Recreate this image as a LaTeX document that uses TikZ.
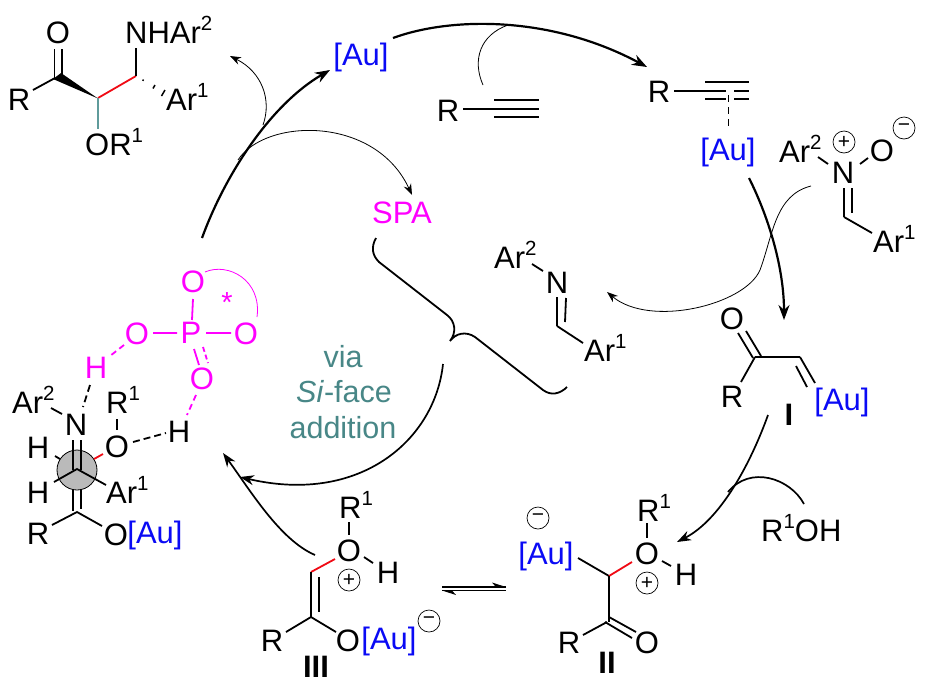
\documentclass[tikz,border=0pt]{standalone}
\usepackage{fontspec}
\setmainfont{Liberation Sans}
\usetikzlibrary{arrows.meta}
\definecolor{aublue}{RGB}{10,10,245}
\definecolor{spam}{RGB}{255,0,255}
\definecolor{viateal}{RGB}{72,135,135}
\definecolor{bondteal}{RGB}{95,155,155}
\definecolor{bondred}{RGB}{240,10,20}
\newcommand\upn[1]{\raisebox{0.40em}{\fontsize{20.5}{21}\selectfont #1}}
\tikzset{
  lab/.style={font=\fontsize{31}{31}\selectfont,inner sep=0pt,text=black},
  bl/.style={lab,anchor=base west},
  sp/.style={lab,text=spam},
  aut/.style={lab,text=aublue},
  rom/.style={lab,font=\fontsize{31}{31}\selectfont\bfseries},
  via/.style={lab,font=\fontsize{30.5}{31}\selectfont,text=viateal},
  chg/.style={draw=black,line width=0.7pt,circle,minimum size=22pt,inner sep=0pt,font=\fontsize{21}{21}\selectfont},
  bond/.style={line width=1.8pt,draw=black},
  mbond/.style={line width=1.8pt,draw=spam},
  thin arc/.style={line width=0.8pt,draw=black},
  thinar/.style={thin arc,-{Stealth[length=11pt,width=8pt]}},
  thickar/.style={line width=2.2pt,draw=black,-{Stealth[length=15pt,width=11pt]}},
  midar/.style={line width=1.7pt,draw=black,-{Stealth[length=14pt,width=10pt]}}
}
\begin{document}
\begin{tikzpicture}[x=1pt,y=-1pt]
\path[fill=white,use as bounding box] (0,0) rectangle (926,697);

% --- product, top left
\node[lab] (pO) at (58,33) {O};
\node[lab] (pR) at (19,100) {R};
\node[bl] (pN) at (125,43) {NHAr\upn{2}};
\node[bl] (pAr) at (166,110) {Ar\upn{1}};
\node[bl] (pOR) at (85,155) {OR\upn{1}};
\draw[bond] (33,90) -- (55,78);
\draw[bond] (54.5,78) -- (54.5,49) (62,75) -- (62,49);
\fill (98,98.5) -- (53,79) -- (61,73) -- cycle;
\draw[line width=1.8pt,draw=bondred] (98,98) -- (136,76);
\draw[bond] (136,76) -- (136,48);
\draw[line width=1.8pt,draw=bondteal] (98,98) -- (98,129);
\draw[line width=1.5pt] (143.5,79.5) -- (142.8,80.8) (155,85) -- (153,88.5) (165,90) -- (161.5,96);

% --- [Au] catalyst, top
\node[aut] (auTop) at (361,57) {[Au]};
\coordinate (mainS) at (202,238);
\coordinate (mainE) at (330,70);
\draw[thickar] (mainS) .. controls (225,175) and (270,105) .. (mainE);
\draw[thinar] (263,125) .. controls (272,100) and (262,72) .. (230,56);
\draw[thinar] (238,160) .. controls (265,118) and (375,115) .. (412,195);
\draw[thickar] (393,38) .. controls (450,17) and (550,15) .. (647,67);
\draw[thin arc] (483,85) .. controls (472,60) and (480,35) .. (508,25);

% --- alkyne
\node[lab] (alkR) at (448,111) {R};
\draw[bond] (463,109) -- (494,109);
\draw[bond] (494,100) -- (539,100) (494,109) -- (539,109) (494,117) -- (539,117);

% --- SPA
\node[sp] (spa) at (402,213) {SPA};

% --- gold pi complex
\node[lab] (cR) at (659,92) {R};
\draw[bond] (674,91) -- (705,91);
\draw[bond] (705,82) -- (749,82);
\draw[bond] (705,91) -- (726,91) (734,91) -- (749,91);
\draw[bond] (705,99) -- (726,99) (734,99) -- (749,99);
\draw[line width=1.8pt,dash pattern=on 7pt off 5pt] (728.5,95) -- (728.5,126);
\node[aut] (auC) at (728,152) {[Au]};

% --- nitrone
\node[bl] (nAr2) at (779,162) {Ar\upn{2}};
\node[lab] (nN) at (843,173) {N};
\node[lab] (nO) at (882,151) {O};
\node[chg] (nP) at (844,142) {+};
\node[chg] (nM) at (904,128) {−};
\draw[bond] (818,157) -- (828,164) (860,164) -- (868,158);
\draw[bond] (844,188) -- (844,217) (852,188) -- (852,213);
\draw[bond] (844,217) -- (872,233);
\node[bl] (nAr1) at (873,252) {Ar\upn{1}};
\draw[thickar] (749,178) .. controls (770,220) and (784,270) .. (784,320);
\draw[thinar] (811,186) .. controls (775,195) and (773,235) .. (760,270) .. controls (745,305) and (650,328) .. (607,292);

% --- imine
\node[bl] (iAr2) at (494,268) {Ar\upn{2}};
\node[lab] (iN) at (557,283) {N};
\draw[bond] (532,264) -- (543,271);
\draw[bond] (557,297) -- (557,326) (566,298) -- (565,322);
\draw[bond] (557,326) -- (583,343);
\node[bl] (iAr1) at (584,361) {Ar\upn{1}};

% --- brace
\draw[line width=1.8pt] (376,238) .. controls (371,247) and (372,255) .. (379,262) -- (447,315) .. controls (455,321) and (457,332) .. (450,341) .. controls (456,333) and (466,331) .. (475,337) -- (543,390) .. controls (551,396) and (560,394) .. (567,387);

% --- via label
\node[via] (v1) at (343,357) {via};
\node[via] (v2) at (344,392) {\textit{Si}-face};
\node[via] (v3) at (343,428) {addition};
\draw[midar] (443,364) .. controls (435,440) and (360,505) .. (240,477);

% --- I
\node[lab] (iO) at (732,319) {O};
\node[lab] (iR) at (732,397) {R};
\draw[bond] (738,333) -- (753,358) (746,331) -- (761,356);
\draw[bond] (755,357) -- (741,382);
\draw[bond] (755,357) -- (800,357);
\draw[bond] (800,357) -- (815,383) (796,366) -- (807,387);
\node[aut] (iAu) at (842,402) {[Au]};
\node[rom] (romI) at (789,415) {I};
\draw[midar] (768,415) .. controls (750,465) and (720,520) .. (677,542);
\node[bl] (rOH) at (761,541) {R\upn{1}OH};
\draw[line width=1.7pt] (804,504) .. controls (790,478) and (750,465) .. (728,492);

% --- II
\node[chg] (iiM) at (538,518) {−};
\node[aut] (iiAu) at (546,556) {[Au]};
\draw[bond] (578,558) -- (609,576);
\draw[line width=1.8pt,draw=bondred] (609,576) -- (632,562);
\node[lab] (iiO) at (647,554) {O};
\node[bl] (iiR) at (637,521) {R\upn{1}};
\draw[bond] (647,523) -- (647,538);
\draw[bond] (662,561) -- (671,566);
\node[lab] (iiH) at (686,575) {H};
\node[chg] (iiP) at (647,583) {+};
\draw[bond] (609,576) -- (609,622);
\draw[bond] (605,622) -- (632,638) (609,617) -- (636,632);
\draw[bond] (607,622) -- (583,635);
\node[lab] (iiRr) at (569,643) {R};
\node[lab] (iiOo) at (647,643) {O};
\node[rom] (romII) at (607,663) {II};

% --- equilibrium
\draw[line width=1.3pt] (442,587) -- (506,587) (442,590.5) -- (506,590.5);
\fill (506,587) -- (492,582.5) -- (496,587) -- cycle;
\fill (442,590.5) -- (456,595) -- (452,590.5) -- cycle;

% --- III
\node[bl] (iiiR) at (339,518) {R\upn{1}};
\draw[bond] (349,522) -- (349,535);
\node[lab] (iiiO) at (349,551) {O};
\draw[line width=1.8pt,draw=bondred] (335,559) -- (311,572);
\draw[bond] (364,557) -- (373,563);
\node[lab] (iiiH) at (388,573) {H};
\node[chg] (iiiP) at (349,580) {+};
\draw[bond] (311,572) -- (311,617) (319,577) -- (319,612);
\draw[bond] (311,617) -- (286,632) (311,617) -- (336,632);
\node[lab] (iiiRr) at (272,641) {R};
\node[lab] (iiiOo) at (348,641) {O};
\node[aut] (iiiAu) at (389,641) {[Au]};
\node[chg] (iiiM) at (429,621) {−};
\node[rom] (romIII) at (316,667) {III};
\draw[midar] (315,555) .. controls (280,540) and (250,490) .. (223,453);

% --- phosphoric acid
\node[sp] (aO1) at (193,282) {O};
\node[sp] (aP) at (191,333) {P};
\node[sp] (aO2) at (137,334) {O};
\node[sp] (aO3) at (246,334) {O};
\node[sp] (aO4) at (202,379) {O};
\node[sp] (aH) at (96,368) {H};
\draw[mbond] (193,299) -- (192,320) (153,333) -- (177,333) (206,333) -- (231,333);
\draw[mbond] (194,349) -- (199,365);
\draw[mbond,dash pattern=on 5pt off 3pt] (203,347) -- (208,363);
\draw[mbond,dash pattern=on 6pt off 4pt] (124,345) -- (110,356);
\draw[mbond,dash pattern=on 6pt off 4pt] (196,395) -- (187,415);
\draw[line width=0.8pt,draw=spam] (205,272) .. controls (228,262) and (262,280) .. (257,317);
\node[lab,text=spam,font=\fontsize{29}{29}\selectfont] (aStar) at (227,303) {*};

% --- transition state, Newman projection
\draw[bond,dash pattern=on 7pt off 4pt] (90,385) -- (83,407);
\node[bl] (tAr2) at (12,413) {Ar\upn{2}};
\draw[bond] (51,408) -- (62,414);
\node[lab] (tN) at (76,425) {N};
\node[lab] (tH1) at (38,448) {H};
\node[lab] (tH2) at (38,493) {H};
\draw[bond] (55,456) -- (60,459);
\node[bl] (tR) at (106,413) {R\upn{1}};
\draw[bond] (117,419) -- (117,430);
\node[lab] (tO) at (117,447) {O};
\node[lab] (tH3) at (179,432) {H};
\draw[bond,dash pattern=on 7pt off 4pt] (133,442) -- (166,433);
\draw[line width=0.8pt,fill=black!27] (77,470) circle (20);
\draw[bond] (73,440) -- (73,470) (81,440) -- (81,470);
\draw[bond] (54,482) -- (77,469) -- (106,485);
\draw[line width=1.8pt,draw=bondred] (94,459) -- (103,454);
\draw[bond] (73,489) -- (73,511) (81,489) -- (81,509);
\draw[bond] (52,525) -- (77,512) -- (102,526);
\node[bl] (tAr1) at (106,503) {Ar\upn{1}};
\node[lab] (tRr) at (38,534) {R};
\node[lab] (tOo) at (116,535) {O};
\node[aut] (tAu) at (155,535) {[Au]};
\end{tikzpicture}
\end{document}
